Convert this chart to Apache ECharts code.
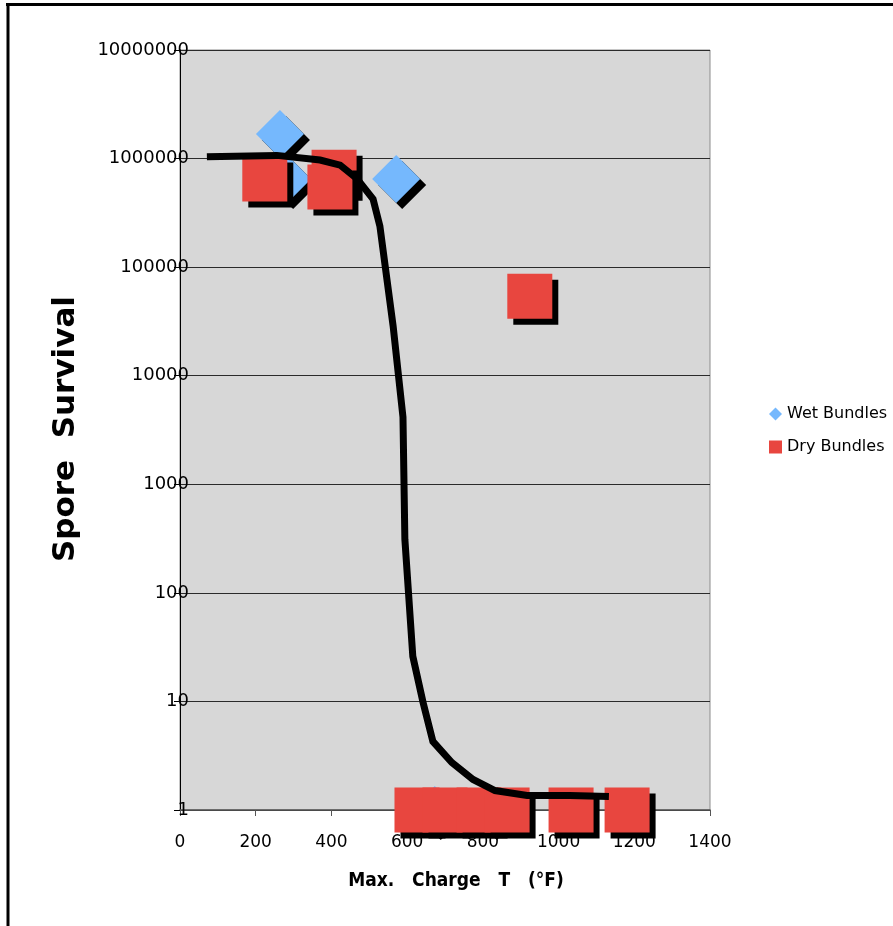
<!DOCTYPE html>
<html>
<head>
<meta charset="utf-8">
<script src="https://cdn.jsdelivr.net/npm/echarts@6/dist/echarts.min.js"></script>
<style>
html,body{margin:0;padding:0;background:#fff;}
#chart{width:893px;height:926px;}
</style>
</head>
<body>
<div id="chart"></div>
<script>
// X ticks (°F) and Y ticks (spore count, log scale)
const xTicks = [0, 200, 400, 600, 800, 1000, 1200, 1400];
const yTicks = [1, 10, 100, 1000, 10000, 100000, 1000000, 10000000];

// Wet Bundles
const wetX = [264, 283, 571, 673, 821];
const wetY = [1680000, 650000, 650000, 1, 1];

// Dry Bundles
const dryX = [224, 407, 396, 924, 626, 700, 790, 864, 1033, 1181];
const dryY = [650000, 750000, 546000, 54000, 1, 1, 1, 1, 1, 1];

// Trend curve
const curveX = [71, 256, 370, 423, 468, 510, 528, 563, 589, 594, 615, 642, 668, 718, 774, 832, 917, 1030, 1133];
const curveY = [1040000, 1070000, 970000, 870000, 650000, 424000, 239000, 28600, 4150, 311, 26, 9.8, 4.28, 2.74, 1.91, 1.51, 1.36, 1.36, 1.33];

const zip = (a, b) => a.map((v, i) => [v, b[i]]);

const chart = echarts.init(document.getElementById('chart'), null, {renderer: 'canvas'});

const shadow = {opacity: 1, shadowColor: '#000', shadowBlur: 0, shadowOffsetX: 6, shadowOffsetY: 6};

chart.setOption({
  animation: false,
  backgroundColor: '#fff',
  grid: {
    left: 180, right: 183, top: 50, bottom: 116,
    show: true, backgroundColor: '#d7d7d7', borderColor: '#8c8c8c', borderWidth: 1
  },
  xAxis: {
    type: 'value', min: xTicks[0], max: xTicks[xTicks.length - 1], interval: 200,
    axisLine: {show: true, onZero: false, lineStyle: {color: '#555', width: 1.5}},
    axisTick: {show: true, length: 6, lineStyle: {color: '#555'}},
    splitLine: {show: false},
    axisLabel: {color: '#000', fontSize: 17, fontFamily: 'DejaVu Sans', margin: 24,
      formatter: v => String(v)}
  },
  yAxis: {
    type: 'log', logBase: 10, min: yTicks[0], max: yTicks[yTicks.length - 1],
    axisLine: {show: true, onZero: false, lineStyle: {color: '#000', width: 1}},
    axisTick: {show: true, length: 6, lineStyle: {color: '#000'}},
    splitLine: {show: true, lineStyle: {color: '#2a2a2a', width: 1}},
    axisLabel: {color: '#000', fontSize: 18, fontFamily: 'DejaVu Sans', margin: -9,
      formatter: v => String(Math.round(v))}
  },
  legend: {
    orient: 'vertical', left: 769, top: 406, padding: 0,
    itemWidth: 13, itemHeight: 13, itemGap: 17,
    data: ['Wet Bundles', 'Dry Bundles'],
    textStyle: {fontSize: 16, fontFamily: 'DejaVu Sans', color: '#000'},
    itemStyle: {opacity: 1, shadowColor: 'rgba(0,0,0,0)', shadowBlur: 0, shadowOffsetX: 0, shadowOffsetY: 0}
  },
  series: [
    {
      name: 'Wet Bundles', type: 'scatter', symbol: 'diamond', symbolSize: 48, z: 2,
      itemStyle: Object.assign({color: '#75b8fd'}, shadow),
      data: zip(wetX, wetY)
    },
    {
      name: 'Dry Bundles', type: 'scatter', symbol: 'rect', symbolSize: 45, z: 3,
      itemStyle: Object.assign({color: '#e8463f'}, shadow),
      data: zip(dryX, dryY)
    },
    {
      name: 'Trend', type: 'line', z: 5, symbol: 'none', smooth: false,
      lineStyle: {color: '#000', width: 7, cap: 'butt', join: 'miter'},
      data: zip(curveX, curveY)
    }
  ],
  graphic: [
    {type: 'line', shape: {x1: 6, y1: 4.5, x2: 893, y2: 4.5}, style: {stroke: '#000', lineWidth: 3}},
    {type: 'line', shape: {x1: 8, y1: 3, x2: 8, y2: 926}, style: {stroke: '#000', lineWidth: 3}},
    {type: 'text', x: 66, y: 429, rotation: Math.PI / 2,
      style: {text: 'Spore  Survival', font: 'bold 31px "DejaVu Sans"', fill: '#000',
        textAlign: 'center', textVerticalAlign: 'middle'}},
    {type: 'text', x: 456, y: 881,
      style: {text: 'Max.   Charge   T   (°F)', font: 'bold 19px "DejaVu Sans Condensed", "Liberation Sans Narrow", sans-serif', fill: '#000',
        textAlign: 'center', textVerticalAlign: 'middle'}}
  ]
});
</script>
</body>
</html>
